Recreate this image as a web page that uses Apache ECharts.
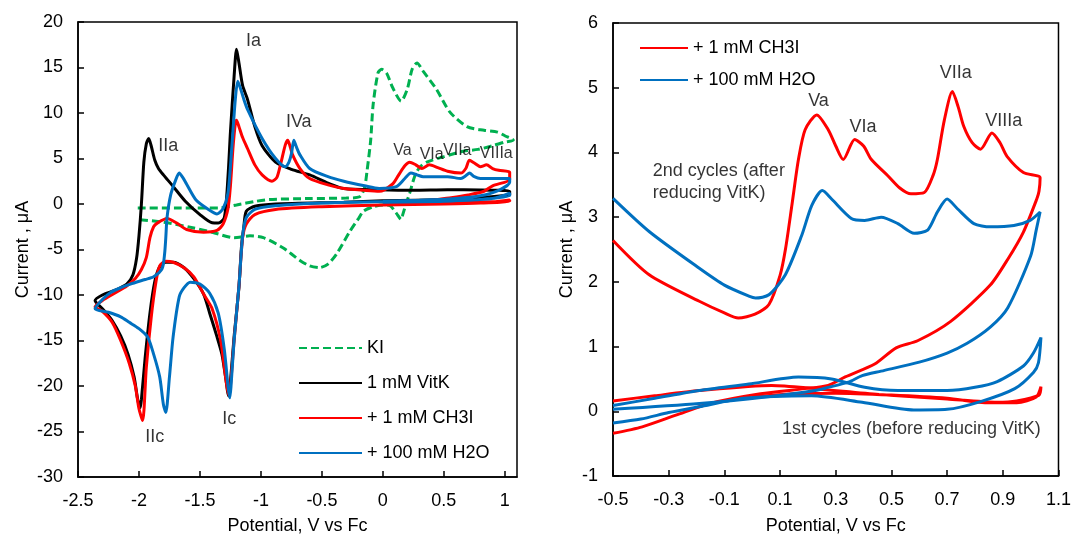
<!DOCTYPE html>
<html>
<head>
<meta charset="utf-8">
<script src="https://cdn.jsdelivr.net/npm/echarts@6/dist/echarts.min.js"></script>
<style>
  html, body { margin: 0; padding: 0; background: #fff; }
  #app { width: 1074px; height: 540px; }
</style>
</head>
<body>
<div id="app"></div>
<script>
// left panel, full CVs  [potential V, current uA]
const kiCv = [
  [-2.01, -0.43], [-1.7, -0.45], [-1.34, -0.43], [-1.2, -0.1], [-1.04, 0.3], [-0.93, 0.5], [-0.6, 0.6],
  [-0.3, 0.65], [-0.19, 0.8], [-0.15, 1.8], [-0.13, 3.6], [-0.1, 7.0], [-0.08, 10.9], [-0.04, 14.4],
  [-0.01, 14.8], [0.03, 14.4], [0.08, 12.8], [0.15, 11.3], [0.2, 12.6], [0.24, 14.8], [0.28, 15.5],
  [0.33, 14.6], [0.44, 12.6], [0.55, 10.1], [0.69, 8.5], [0.83, 8.1], [0.94, 7.9], [1.0, 7.5], [1.07, 7.0],
  [1.0, 6.8], [0.9, 6.4], [0.78, 6.0], [0.66, 5.8], [0.5, 5.2], [0.36, 4.6], [0.3, 4.0], [0.26, 3.0],
  [0.22, 1.2], [0.19, 0], [0.16, -1.3], [0.15, -1.7], [0.11, -1.0], [0.06, -0.2], [0.0, -0.1],
  [-0.08, -0.3], [-0.16, -0.8], [-0.2, -1.6], [-0.27, -3.0], [-0.38, -5.5], [-0.45, -6.6], [-0.52, -7.0],
  [-0.6, -6.8], [-0.68, -6.2], [-0.82, -4.8], [-0.98, -3.7], [-1.09, -3.5], [-1.22, -3.7], [-1.4, -3.1],
  [-1.56, -2.6], [-1.8, -2.0], [-2.01, -1.7]
];
const vitkCv = [
  [1.04, 1.0], [0.8, 0.7], [0.53, 0.5], [0.0, 0.35], [-0.32, 0.2], [-0.88, 0.0], [-1.05, -0.25],
  [-1.12, -0.8], [-1.14, -2.5], [-1.16, -4.8], [-1.18, -9.1], [-1.22, -14.6], [-1.25, -19.5],
  [-1.265, -21.1], [-1.29, -19.0], [-1.32, -16.5], [-1.36, -14.6], [-1.42, -12.0], [-1.47, -9.9],
  [-1.55, -8.2], [-1.63, -7.0], [-1.72, -6.4], [-1.78, -6.4], [-1.83, -6.9], [-1.87, -8.5], [-1.91, -12.0],
  [-1.95, -17.0], [-1.98, -21.5], [-1.99, -22.4], [-2.01, -21.5], [-2.04, -19.0], [-2.09, -16.5],
  [-2.15, -14.5], [-2.22, -12.8], [-2.3, -11.5], [-2.36, -10.6],
  [-2.3, -10.0], [-2.2, -9.5], [-2.1, -8.8], [-2.05, -7.8], [-2.02, -6.0], [-2.0, -3.5], [-1.98, 0],
  [-1.96, 4.6], [-1.94, 6.6], [-1.92, 7.2], [-1.9, 6.4], [-1.87, 4.8], [-1.84, 3.9], [-1.8, 3.2],
  [-1.73, 2.1], [-1.62, 0.3], [-1.5, -1.16], [-1.4, -2.07], [-1.35, -2.1], [-1.3, -1.5], [-1.27, 3.0],
  [-1.25, 7.9], [-1.22, 14.0], [-1.2, 17.0], [-1.18, 15.5], [-1.15, 13.0], [-1.11, 11.5], [-1.05, 8.5],
  [-0.99, 6.4], [-0.88, 4.6], [-0.75, 3.8], [-0.6, 3.2], [-0.45, 2.3], [-0.32, 1.7], [-0.03, 1.56],
  [0.25, 1.5], [0.53, 1.56], [0.8, 1.55], [1.04, 1.4], [1.04, 1.0]
];
const ch3iCv = [
  [0.0, 0.1], [0.3, 0.15], [0.6, 0.2], [0.9, 0.25], [1.04, 0.45], [1.04, 0.3], [0.8, 0.1], [0.5, 0.0],
  [0.0, -0.1], [-0.5, -0.3], [-0.88, -0.6], [-1.05, -1.16], [-1.12, -2.2], [-1.15, -3.7], [-1.18, -9.0],
  [-1.22, -15.0], [-1.25, -20.0], [-1.265, -21.0], [-1.29, -19.0], [-1.33, -15.0], [-1.4, -11.5],
  [-1.47, -9.9], [-1.55, -8.0], [-1.63, -7.0], [-1.72, -6.4], [-1.78, -6.3], [-1.83, -6.8], [-1.86, -8.5],
  [-1.9, -12.5], [-1.94, -18.0], [-1.97, -23.8], [-2.0, -22.5], [-2.03, -20.0], [-2.08, -17.5],
  [-2.15, -15.0], [-2.22, -13.0], [-2.3, -11.8], [-2.36, -11.3],
  [-2.3, -10.6], [-2.2, -9.8], [-2.1, -9.0], [-2.03, -8.2], [-1.98, -7.2], [-1.94, -5.9], [-1.91, -3.7],
  [-1.88, -2.5], [-1.85, -2.1], [-1.77, -1.6], [-1.69, -2.1], [-1.61, -2.8], [-1.47, -3.1], [-1.36, -2.9],
  [-1.31, -2.2], [-1.27, -0.5], [-1.25, 2.0], [-1.23, 6.0], [-1.21, 8.8], [-1.2, 9.2], [-1.18, 8.5],
  [-1.15, 7.3], [-1.11, 6.1], [-1.05, 4.3], [-0.99, 3.2], [-0.91, 2.5], [-0.87, 2.9], [-0.84, 4.3],
  [-0.8, 6.5], [-0.78, 7.0], [-0.76, 6.3], [-0.74, 5.4], [-0.68, 3.9], [-0.6, 2.8], [-0.45, 2.1],
  [-0.32, 1.7], [-0.15, 1.5], [-0.03, 1.4], [0.08, 2.2], [0.13, 3.2], [0.18, 4.2], [0.22, 4.6],
  [0.27, 4.3], [0.32, 3.9], [0.38, 4.3], [0.45, 4.0], [0.53, 3.6], [0.64, 3.4], [0.68, 3.9], [0.71, 4.8],
  [0.75, 4.5], [0.8, 4.1], [0.85, 4.3], [0.9, 3.9], [0.95, 3.7], [1.04, 3.5],
  [1.04, 2.7], [0.9, 2.0], [0.83, 1.4], [0.7, 1.0], [0.56, 0.7], [0.28, 0.2], [0.0, 0.0]
];
const h2oCv = [
  [0.0, 0.2], [0.5, 0.3], [0.9, 0.6], [1.04, 1.2], [1.04, 0.9], [0.8, 0.5], [0.5, 0.35], [0.0, 0.25],
  [-0.5, 0.1], [-0.88, -0.2], [-1.05, -0.6], [-1.12, -1.5], [-1.15, -3.5], [-1.18, -9.0], [-1.22, -15.0],
  [-1.245, -20.0], [-1.255, -21.3], [-1.27, -20.0], [-1.3, -16.0], [-1.35, -12.0], [-1.42, -9.8],
  [-1.5, -8.8], [-1.58, -8.6], [-1.63, -9.2], [-1.67, -10.2], [-1.72, -14.6], [-1.75, -19.0],
  [-1.78, -22.9], [-1.8, -22.0], [-1.83, -19.0], [-1.88, -16.5], [-1.93, -14.6], [-2.0, -13.7],
  [-2.08, -13.0], [-2.15, -12.4], [-2.25, -11.9], [-2.36, -11.5],
  [-2.3, -10.5], [-2.23, -9.7], [-2.15, -9.2], [-2.07, -8.8], [-1.95, -8.3], [-1.88, -8.0], [-1.81, -7.1],
  [-1.79, -5.5], [-1.78, -3.7], [-1.77, -1.5], [-1.74, 1.0], [-1.7, 2.6], [-1.67, 3.4], [-1.64, 2.9],
  [-1.61, 2.2], [-1.53, 0.4], [-1.42, -0.7], [-1.36, -1.1], [-1.31, -0.5], [-1.27, 1.2], [-1.24, 6.0],
  [-1.21, 11.5], [-1.19, 13.5], [-1.17, 12.8], [-1.14, 11.5], [-1.11, 10.4], [-0.99, 7.2], [-0.88, 5.0],
  [-0.8, 4.1], [-0.77, 4.6], [-0.75, 5.5], [-0.73, 7.0], [-0.71, 6.3], [-0.68, 5.4], [-0.6, 3.9],
  [-0.45, 3.0], [-0.32, 2.5], [-0.15, 2.0], [-0.03, 1.7], [0.11, 1.9], [0.18, 2.8], [0.23, 3.4],
  [0.28, 3.2], [0.33, 3.0], [0.53, 3.0], [0.64, 2.8], [0.68, 3.1], [0.71, 3.4], [0.75, 3.0], [0.8, 2.8],
  [1.04, 2.8], [1.04, 2.4], [0.95, 1.5], [0.8, 0.9], [0.6, 0.6], [0.3, 0.4], [0.0, 0.3]
];

// right panel, zoom on the oxidation region
const ch3iFirst = [
  [0.0, 0.22], [0.15, 0.27], [0.3, 0.28], [0.5, 0.25], [0.7, 0.2], [0.85, 0.13], [0.95, 0.13], [1.02, 0.22],
  [1.037, 0.38], [1.03, 0.25], [0.95, 0.16], [0.88, 0.14], [0.7, 0.19], [0.455, 0.26], [0.226, 0.35],
  [0.07, 0.4], [-0.19, 0.32], [-0.35, 0.24], [-0.5, 0.16]
];
const ch3iSecond = [
  [-0.5, 2.64], [-0.37, 2.11], [-0.19, 1.7], [-0.1, 1.52], [-0.05, 1.44], [0.01, 1.5], [0.06, 1.65],
  [0.1, 2.1], [0.12, 2.52], [0.143, 3.2], [0.166, 3.89], [0.19, 4.35], [0.232, 4.58], [0.273, 4.35],
  [0.3, 4.1], [0.327, 3.89], [0.368, 4.2], [0.4, 4.1], [0.428, 3.89], [0.487, 3.64], [0.53, 3.45],
  [0.57, 3.36], [0.618, 3.38], [0.65, 3.65], [0.665, 3.89], [0.69, 4.5], [0.719, 4.94], [0.74, 4.7],
  [0.76, 4.4], [0.79, 4.15], [0.82, 4.05], [0.861, 4.3], [0.89, 4.15], [0.915, 3.94], [0.974, 3.69],
  [1.034, 3.61], [1.03, 3.4], [1.022, 3.28], [0.974, 2.77], [0.918, 2.35], [0.855, 1.95], [0.713, 1.39],
  [0.594, 1.09], [0.517, 0.98], [0.44, 0.73], [0.334, 0.53], [0.273, 0.4], [0.189, 0.35], [0.03, 0.27],
  [-0.152, 0.12], [-0.274, -0.06], [-0.395, -0.24], [-0.5, -0.34]
];
const h2oFirst = [
  [-0.5, 0.09], [-0.35, 0.2], [-0.19, 0.32], [-0.012, 0.42], [0.166, 0.53], [0.285, 0.5], [0.404, 0.37],
  [0.523, 0.32], [0.7, 0.32], [0.8, 0.37], [0.88, 0.46], [0.974, 0.7], [1.01, 0.9], [1.037, 1.14],
  [1.028, 0.75], [1.01, 0.6], [0.943, 0.35], [0.82, 0.15], [0.7, 0.03], [0.58, 0.02], [0.395, 0.14],
  [0.213, 0.24], [-0.03, 0.2], [-0.19, 0.07], [-0.3, -0.02], [-0.4, -0.12], [-0.5, -0.18]
];
const h2oSecond = [
  [-0.5, 3.29], [-0.368, 2.77], [-0.19, 2.21], [-0.1, 1.95], [-0.012, 1.78], [0.012, 1.75], [0.06, 1.8],
  [0.119, 2.11], [0.178, 2.72], [0.214, 3.18], [0.252, 3.41], [0.285, 3.28], [0.356, 2.98], [0.404, 2.95],
  [0.463, 3.0], [0.523, 2.9], [0.582, 2.75], [0.63, 2.8], [0.665, 3.08], [0.7, 3.28], [0.737, 3.13],
  [0.796, 2.9], [0.855, 2.85], [0.94, 2.87], [0.998, 2.95], [1.034, 3.08],
  [1.02, 2.8], [1.0, 2.4], [0.918, 1.6], [0.855, 1.3], [0.772, 1.05], [0.7, 0.9], [0.6, 0.76],
  [0.463, 0.62], [0.395, 0.55], [0.345, 0.45], [0.273, 0.37], [0.226, 0.32], [0.048, 0.22], [-0.19, 0.12],
  [-0.5, 0.03]
];

// peak labels
const leftPeaks = [
  { name: 'Ia', value: [-1.06, 17.9], size: 18 },
  { name: 'IIa', value: [-1.76, 6.4], size: 18 },
  { name: 'IVa', value: [-0.69, 9.0], size: 18 },
  { name: 'Va', value: [0.16, 5.9], size: 16 },
  { name: 'VIa', value: [0.4, 5.4], size: 16 },
  { name: 'VIIa', value: [0.61, 5.9], size: 16 },
  { name: 'VIIIa', value: [0.93, 5.5], size: 16 },
  { name: 'IIc', value: [-1.87, -25.6], size: 18 },
  { name: 'Ic', value: [-1.26, -23.6], size: 18 }
];
const rightPeaks = [
  { name: 'Va', value: [0.238, 4.79], align: 'center' },
  { name: 'VIa', value: [0.398, 4.4], align: 'center' },
  { name: 'VIIa', value: [0.731, 5.22], align: 'center' },
  { name: 'VIIIa', value: [0.903, 4.48], align: 'center' },
  { name: '2nd cycles (after\nreducing VitK)', value: [-0.357, 3.55], align: 'left' },
  { name: '1st cycles (before reducing VitK)', value: [1.036, -0.27], align: 'right' }
];
const rightTickLabels = ['-0.5', '-0.3', '-0.1', '0.1', '0.3', '0.5', '0.7', '0.9', '1.1'];

const FONT = "'Liberation Sans', Arial, sans-serif";
const RED = '#ff0000';
const BLUE = '#0070c0';
const GREEN = '#00b050';

const myChart = echarts.init(document.getElementById('app'));

function frameAxis(extra) {
  return Object.assign(
    {
      type: 'value',
      axisLine: { show: true, onZero: false, lineStyle: { color: '#000', width: 1.5 } },
      axisTick: { show: true, inside: true, length: 6, lineStyle: { color: '#000', width: 1.5 } },
      splitLine: { show: false },
      axisLabel: { color: '#000', fontSize: 18, fontFamily: FONT, margin: 15 },
      nameLocation: 'middle',
      nameTextStyle: { color: '#000', fontSize: 18, fontFamily: FONT }
    },
    extra
  );
}

function cv(name, data, color, xi, yi, dashed) {
  return {
    name: name,
    type: 'line',
    xAxisIndex: xi,
    yAxisIndex: yi,
    data: data,
    symbol: 'none',
    smooth: 0.25,
    lineStyle: { color: color, width: 3, type: dashed ? [8, 4] : 'solid' },
    itemStyle: { color: color },
    silent: true
  };
}

function peakLabels(list, xi, yi) {
  return {
    type: 'scatter',
    xAxisIndex: xi,
    yAxisIndex: yi,
    symbolSize: 0,
    silent: true,
    z: 10,
    data: list.map((p) => ({
      name: p.name,
      value: p.value,
      label: {
        show: true,
        position: [0, 0],
        formatter: '{b}',
        align: p.align || 'center',
        verticalAlign: 'middle',
        color: '#000',
        fontSize: p.size || 18,
        lineHeight: 22,
        fontFamily: FONT
      }
    }))
  };
}

const legendBase = {
  orient: 'vertical',
  itemHeight: 16,
  textStyle: { color: '#000', fontSize: 18, fontFamily: FONT },
  // hide the marker dot, keep only the line sample
  itemStyle: { opacity: 0 }
};

const option = {
  animation: false,
  backgroundColor: '#fff',
  textStyle: { fontFamily: FONT },
  grid: [
    { left: 78, top: 22, width: 439, height: 460, show: true, borderColor: '#000', borderWidth: 1.5 },
    { left: 613, top: 23, width: 449, height: 457, show: true, borderColor: '#000', borderWidth: 1.5 }
  ],
  legend: [
    Object.assign({}, legendBase, {
      left: 293,
      top: 334,
      itemWidth: 63,
      itemGap: 17,
      data: ['KI', '1 mM VitK', '+ 1 mM CH3I', '+ 100 mM H2O']
    }),
    Object.assign({}, legendBase, {
      left: 634,
      top: 34,
      itemWidth: 48,
      itemGap: 14,
      data: ['+ 1 mM CH3I', '+ 100 mM H2O']
    })
  ],
  xAxis: [
    frameAxis({
      gridIndex: 0,
      position: 'bottom',
      min: -2.5,
      max: 1.1,
      interval: 0.5,
      name: 'Potential, V vs Fc',
      nameGap: 40,
      axisLabel: { color: '#000', fontSize: 18, fontFamily: FONT, margin: 15, showMaxLabel: false }
    }),
    // data axis of the right panel
    { type: 'value', gridIndex: 1, position: 'bottom', min: -0.5, max: 1.1, show: false },
    // labelled axis of the right panel, same span
    frameAxis({
      gridIndex: 1,
      position: 'bottom',
      offset: 0,
      min: 0,
      max: 1.6,
      interval: 0.2,
      name: 'Potential, V vs Fc',
      nameGap: 41,
      axisLabel: {
        color: '#000',
        fontSize: 18,
        fontFamily: FONT,
        margin: 15,
        formatter: (v) => rightTickLabels[Math.round(v / 0.2)]
      }
    })
  ],
  yAxis: [
    frameAxis({ gridIndex: 0, min: -30, max: 20, interval: 5, name: 'Current , μA', nameGap: 46 }),
    frameAxis({ gridIndex: 1, min: -1, max: 6, interval: 1, name: 'Current , μA', nameGap: 37 })
  ],
  series: [
    cv('KI', kiCv, GREEN, 0, 0, true),
    cv('1 mM VitK', vitkCv, '#000', 0, 0),
    cv('+ 1 mM CH3I', ch3iCv, RED, 0, 0),
    cv('+ 100 mM H2O', h2oCv, BLUE, 0, 0),
    cv('+ 1 mM CH3I', ch3iFirst, RED, 1, 1),
    cv('+ 1 mM CH3I', ch3iSecond, RED, 1, 1),
    cv('+ 100 mM H2O', h2oFirst, BLUE, 1, 1),
    cv('+ 100 mM H2O', h2oSecond, BLUE, 1, 1),
    peakLabels(leftPeaks, 0, 0),
    peakLabels(rightPeaks, 1, 1)
  ]
};

myChart.setOption(option);
</script>
</body>
</html>
